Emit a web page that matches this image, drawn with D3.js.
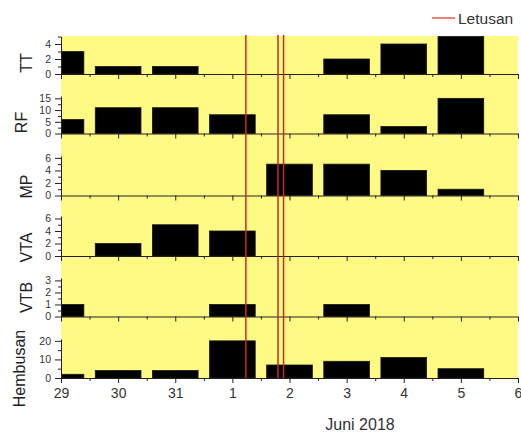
<!DOCTYPE html>
<html>
<head>
<meta charset="utf-8">
<script src="https://cdn.jsdelivr.net/npm/d3@7"></script>
<style>
  body { margin: 0; background: #fff; }
  svg { display: block; font-family: "Liberation Sans", Arial, sans-serif; }
</style>
</head>
<body>
<svg id="chart" width="521" height="433"></svg>
<script>
// ---- data ----
const barDays = ["2018-05-29", "2018-05-30", "2018-05-31", "2018-06-01",
                 "2018-06-02", "2018-06-03", "2018-06-04", "2018-06-05"];
const seriesNames = ["TT", "RF", "MP", "VTA", "VTB", "Hembusan"];
const TT       = [3, 1, 1, 0, 0, 2, 4, 5];
const RF       = [6, 11, 11, 8, 0, 8, 3, 15];
const MP       = [0, 0, 0, 0, 5, 5, 4, 1];
const VTA      = [0, 2, 5, 4, 0, 0, 0, 0];
const VTB      = [1, 0, 0, 1, 0, 1, 0, 0];
const Hembusan = [2, 4, 4, 20, 7, 9, 11, 5];
const yMax       = [5, 16, 6.3, 6.4, 3.2, 21];
const majorTicks = [[0, 2, 4], [0, 5, 10, 15], [0, 2, 4, 6], [0, 2, 4, 6], [0, 1, 2, 3], [0, 10, 20]];
const minorTicks = [[1, 3, 5], [2.5, 7.5, 12.5], [1, 3, 5], [1, 3, 5], [0.5, 1.5, 2.5], [5, 15]];
const eruptionTimes = ["2018-06-01T05:40", "2018-06-01T19:10", "2018-06-01T21:30"];
const xStart = "2018-05-29", xEnd = "2018-06-06";
const legendLabel = "Letusan";
const xTitle = "Juni 2018";

// ---- layout ----
const left = 61, right = 518, areaTop = 36, areaBottom = 378;
const panels = [
  { top: 36.5, base: 74,    labelX: 31.5, labelY: 63 },
  { top: 96,   base: 133.5, labelX: 26.5, labelY: 122.5 },
  { top: 156,  base: 195.5, labelX: 31.5, labelY: 186.5 },
  { top: 216,  base: 256,   labelX: 31.5, labelY: 247.5 },
  { top: 278,  base: 316.5, labelX: 31.5, labelY: 297.5 },
  { top: 339,  base: 378,   labelX: 25,   labelY: 368.5 }
];
const seriesValues = [TT, RF, MP, VTA, VTB, Hembusan];

const parseDay = d3.timeParse("%Y-%m-%d");
const parseTime = d3.timeParse("%Y-%m-%dT%H:%M");
const x = d3.scaleTime().domain([parseDay(xStart), parseDay(xEnd)]).range([left, right]);
const halfBar = 576; // minutes, 0.4 day

const svg = d3.select("#chart");
svg.append("defs").append("clipPath").attr("id", "plotClip")
  .append("rect").attr("x", left).attr("y", 0).attr("width", right - left).attr("height", 433);

// yellow plotting area
svg.append("rect").attr("x", left).attr("y", areaTop)
  .attr("width", right - left).attr("height", areaBottom - areaTop)
  .attr("fill", "#fffa84");

const dayTicks = d3.timeDay.range(parseDay(xStart), d3.timeDay.offset(parseDay(xEnd), 1));
const halfTicks = d3.timeHour.range(parseDay(xStart), parseDay(xEnd), 24)
  .map(d => d3.timeHour.offset(d, 12));

panels.forEach((p, i) => {
  const y = d3.scaleLinear().domain([0, yMax[i]]).range([p.base, p.top]);
  const g = svg.append("g");

  // bars
  g.append("g").attr("clip-path", "url(#plotClip)")
    .selectAll("rect")
    .data(barDays.map((d, j) => ({ date: parseDay(d), v: seriesValues[i][j] })).filter(d => d.v > 0))
    .join("rect")
    .attr("x", d => x(d3.timeMinute.offset(d.date, -halfBar)))
    .attr("width", d => x(d3.timeMinute.offset(d.date, halfBar)) - x(d3.timeMinute.offset(d.date, -halfBar)))
    .attr("y", d => y(d.v))
    .attr("height", d => y(0) - y(d.v))
    .attr("fill", "#000")
    .attr("stroke", "#1a1a1a")
    .attr("stroke-width", 0.8);

  // x axis for this panel
  const last = i === panels.length - 1;
  const xMajor = d3.axisBottom(x).tickValues(dayTicks).tickSize(5).tickSizeOuter(0)
    .tickPadding(5)
    .tickFormat(last ? d3.timeFormat("%-d") : "");
  const xa = g.append("g").attr("transform", `translate(0,${p.base})`).call(xMajor);
  const xMinor = d3.axisBottom(x).tickValues(halfTicks).tickSize(3).tickFormat("");
  const xm = g.append("g").attr("transform", `translate(0,${p.base})`).call(xMinor);
  xm.select(".domain").remove();
  [xa, xm].forEach(a => {
    a.selectAll("path,line").attr("stroke", "#222").attr("stroke-width", 1);
  });
  xa.selectAll("text").attr("font-size", 14).attr("fill", "#333")
    .attr("font-family", "Liberation Sans, Arial, sans-serif");

  // y axis
  const yMajor = d3.axisLeft(y).tickValues(majorTicks[i]).tickSize(6).tickSizeOuter(0)
    .tickPadding(4).tickFormat(d3.format("d"));
  const ya = g.append("g").attr("transform", `translate(${left},0)`).call(yMajor);
  const yMinor = d3.axisLeft(y).tickValues(minorTicks[i]).tickSize(3).tickFormat("");
  const ym = g.append("g").attr("transform", `translate(${left},0)`).call(yMinor);
  ym.select(".domain").remove();
  [ya, ym].forEach(a => {
    a.selectAll("path,line").attr("stroke", "#222").attr("stroke-width", 1);
  });
  ya.selectAll("text").attr("font-size", 10.5).attr("fill", "#333")
    .attr("font-family", "Liberation Sans, Arial, sans-serif");

  // panel title
  svg.append("text")
    .attr("transform", `translate(${p.labelX},${p.labelY}) rotate(-90)`)
    .attr("text-anchor", "middle")
    .attr("font-size", 16)
    .attr("fill", "#222")
    .text(seriesNames[i]);
});

// eruption markers
svg.append("g").selectAll("line")
  .data(eruptionTimes.map(parseTime))
  .join("line")
  .attr("x1", d => x(d)).attr("x2", d => x(d))
  .attr("y1", areaTop - 1).attr("y2", areaBottom)
  .attr("stroke", "#cc2a1e")
  .attr("stroke-width", 1.5);

// legend
svg.append("line").attr("x1", 432).attr("x2", 455).attr("y1", 18).attr("y2", 18)
  .attr("stroke", "#d8403a").attr("stroke-width", 1.3);
svg.append("text").attr("x", 458).attr("y", 23.5)
  .attr("font-size", 15.5).attr("fill", "#333").text(legendLabel);

// x axis title
svg.append("text").attr("x", 360).attr("y", 430)
  .attr("text-anchor", "middle").attr("font-size", 16).attr("fill", "#333")
  .text(xTitle);
</script>
</body>
</html>
